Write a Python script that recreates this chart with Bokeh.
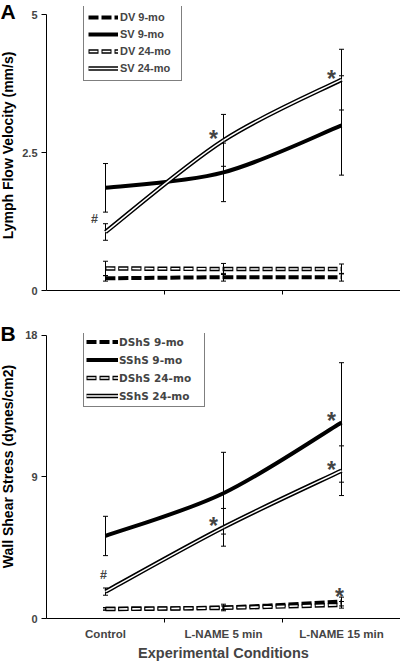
import math
import numpy as np
from bokeh.plotting import figure
from bokeh.models import (Range1d, FixedTicker, Whisker, TeeHead, ColumnDataSource,
                          Legend, LegendItem, Label, NumeralTickFormatter, CustomJSTickFormatter)
from bokeh.layouts import column, row
from bokeh.core.properties import value
from bokeh.embed import file_html
from bokeh.resources import INLINE

categories = ["Control", "L-NAME 5 min", "L-NAME 15 min"]

# Panel A: lymph flow velocity (mm/s)
dv_9mo = [0.22, 0.24, 0.24]
dv_9mo_err = [0.05, 0.07, 0.07]
sv_9mo = [1.86, 2.14, 2.99]
sv_9mo_err = [0.44, 0.53, 0.90]
dv_24mo = [0.40, 0.39, 0.39]
dv_24mo_err = [0.13, 0.10, 0.09]
sv_24mo = [1.06, 2.72, 3.82]
sv_24mo_err = [0.15, 0.47, 0.55]
yticks_A = [0, 2.5, 5]

# Panel B: wall shear stress (dynes/cm2)
dshs_9mo = [0.62, 0.70, 1.08]
dshs_9mo_err = [0.08, 0.21, 0.28]
sshs_9mo = [5.25, 7.97, 12.47]
sshs_9mo_err = [1.25, 2.60, 3.80]
dshs_24mo = [0.60, 0.68, 0.87]
dshs_24mo_err = [0.07, 0.12, 0.21]
sshs_24mo = [1.71, 5.80, 9.40]
sshs_24mo_err = [0.23, 1.20, 1.58]
yticks_B = [0, 9, 18]

# significance marks: (symbol, series, category index)
marks_A = [("#", "sv_24mo", 0), ("*", "sv_24mo", 1), ("*", "sv_24mo", 2)]
marks_B = [("#", "sshs_24mo", 0), ("*", "sshs_24mo", 1), ("*", "sshs_9mo", 2),
           ("*", "sshs_24mo", 2), ("*", "dshs_9mo_top", 2)]

panel_letters = ["A", "B"]
y_titles = ["Lymph Flow Velocity (mm/s)", "Wall Shear Stress (dynes/cm2)"]

FONT = "Liberation Sans"
SIDE_W = 18
HA, HB = 318, 345
xpos = [i + 0.5 for i in range(len(categories))]

STYLES = {
    "dashed": [dict(line_color="black", line_width=4, line_dash="10 3")],
    "solid": [dict(line_color="black", line_width=4)],
    "hollow": [dict(line_color="black", line_width=4.5, line_dash="10 3"),
               dict(line_color="white", line_width=1.6, line_dash="8 5", line_dash_offset=-1)],
    "double": [dict(line_color="black", line_width=4.5),
               dict(line_color="white", line_width=1.5)],
}


def bezier_src(xs, ys):
    n = len(xs)
    P = list(zip(xs, ys))
    d = {k: [] for k in ["x0", "y0", "x1", "y1", "cx0", "cy0", "cx1", "cy1"]}
    for i in range(n - 1):
        pm, p0, p1, p2 = P[max(i - 1, 0)], P[i], P[i + 1], P[min(i + 2, n - 1)]
        d["x0"].append(p0[0]); d["y0"].append(p0[1])
        d["x1"].append(p1[0]); d["y1"].append(p1[1])
        d["cx0"].append(p0[0] + (p1[0] - pm[0]) / 6); d["cy0"].append(p0[1] + (p1[1] - pm[1]) / 6)
        d["cx1"].append(p1[0] - (p2[0] - p0[0]) / 6); d["cy1"].append(p1[1] - (p2[1] - p0[1]) / 6)
    return ColumnDataSource(d)


def side_strip():
    """Narrow strip left of both axes holding the panel letters and the y-axis titles."""
    H = HA + HB
    s = figure(width=SIDE_W, height=H, output_backend="svg", toolbar_location=None,
               x_range=Range1d(0, SIDE_W), y_range=Range1d(0, H), min_border=0)
    s.axis.visible = False
    s.grid.visible = False
    s.outline_line_color = None
    # letters: top edge just at the page top (A) and 321 px below it (B)
    s.text(x=[0, 0], y=[H + 1, H - 321], text=panel_letters, text_font=value(FONT),
           text_font_style="bold", text_font_size="21px", text_baseline="top",
           text_align="left", text_color="black")
    # y titles centred at 145 px and 466 px below the page top
    s.text(x=[SIDE_W / 2 - 1.5] * 2, y=[H - 145, H - 466], text=y_titles, text_font=value(FONT),
           text_font_style="bold", text_font_size="14px", text_baseline="middle",
           text_align="center", angle=math.pi / 2, text_color="black")
    return s


def make_panel(series, yticks, ytop, height, top, bottom, show_x, legend_loc, legend_kw, marks):
    p = figure(width=400 - SIDE_W, height=height, output_backend="svg", toolbar_location=None,
               x_range=Range1d(0, len(categories)), y_range=Range1d(yticks[0], ytop),
               min_border_left=46 - SIDE_W, min_border_right=0, min_border_top=top,
               min_border_bottom=bottom)
    p.outline_line_color = None
    p.grid.visible = False
    p.background_fill_color = "white"

    # y axis
    ya = p.yaxis[0]
    ya.ticker = FixedTicker(ticks=yticks)
    ya.bounds = (yticks[0], yticks[-1])
    ya.formatter = NumeralTickFormatter(format="0.[0]")
    ya.major_tick_out = 5
    ya.major_tick_in = 0
    ya.minor_tick_out = 0
    ya.major_label_standoff = 4
    ya.major_label_text_font = FONT
    ya.major_label_text_font_style = "bold"
    ya.major_label_text_font_size = "11px"
    ya.axis_line_color = "black"

    # x axis
    xa = p.xaxis[0]
    xa.ticker = FixedTicker(ticks=xpos, minor_ticks=[i + 1 for i in range(len(categories))])
    xa.major_tick_out = 0
    xa.major_tick_in = 0
    xa.minor_tick_out = 4
    xa.minor_tick_in = 0
    xa.axis_line_color = "black"
    if show_x:
        xa.formatter = CustomJSTickFormatter(args=dict(cats=categories),
                                             code="return cats[Math.floor(tick)];")
        xa.major_label_standoff = 5
        xa.major_label_text_font = FONT
        xa.major_label_text_font_style = "bold"
        xa.major_label_text_font_size = "11.5px"
        xa.axis_label = "Experimental Conditions"
        xa.axis_label_text_font = FONT
        xa.axis_label_text_font_style = "bold"
        xa.axis_label_text_font_size = "14.5px"
        xa.axis_label_standoff = 2
    else:
        xa.formatter = CustomJSTickFormatter(code="return '';")

    items = []
    values = {}
    for name, label, vals, errs, style in series:
        values[name] = vals
        values[name + "_top"] = [v + e for v, e in zip(vals, errs)]
        src = bezier_src(xpos, vals)
        for kw in STYLES[style]:
            p.bezier(x0="x0", y0="y0", x1="x1", y1="y1", cx0="cx0", cy0="cy0",
                     cx1="cx1", cy1="cy1", source=src, **kw)
        leg_rs = [p.line(x=[np.nan], y=[np.nan], **kw) for kw in STYLES[style]]
        items.append(LegendItem(label=label, renderers=leg_rs))

    for name, label, vals, errs, style in series:
        es = ColumnDataSource(dict(x=xpos, upper=[v + e for v, e in zip(vals, errs)],
                                   lower=[v - e for v, e in zip(vals, errs)]))
        w = Whisker(source=es, base="x", upper="upper", lower="lower", line_color="black",
                    line_width=1,
                    upper_head=TeeHead(size=5, line_color="black", line_width=1),
                    lower_head=TeeHead(size=5, line_color="black", line_width=1))
        p.add_layout(w)

    for sym, name, idx in marks:
        if sym == "*":
            xo, yo, fs = -10, 1, "23px"
            if name.endswith("_top"):
                xo, yo = -2, 0
        else:
            xo, yo, fs = -11, 13, "12.5px"
            if name.startswith("sshs"):
                xo, yo = -2, 17
        p.add_layout(Label(x=xpos[idx], y=values[name][idx], text=sym, x_offset=xo, y_offset=yo,
                           text_align="center", text_baseline="alphabetic",
                           text_font=FONT, text_font_style="bold", text_font_size=fs))

    leg = Legend(items=items, location=legend_loc, border_line_color="black",
                 border_line_width=1, background_fill_alpha=1, margin=0, **legend_kw)
    p.add_layout(leg)
    return p


seriesA = [
    ("dv_9mo", "DV 9-mo", dv_9mo, dv_9mo_err, "dashed"),
    ("sv_9mo", "SV 9-mo", sv_9mo, sv_9mo_err, "solid"),
    ("dv_24mo", "DV 24-mo", dv_24mo, dv_24mo_err, "hollow"),
    ("sv_24mo", "SV 24-mo", sv_24mo, sv_24mo_err, "double"),
]
seriesB = [
    ("dshs_9mo", "DShS 9-mo", dshs_9mo, dshs_9mo_err, "dashed"),
    ("sshs_9mo", "SShS 9-mo", sshs_9mo, sshs_9mo_err, "solid"),
    ("dshs_24mo", "DShS 24-mo", dshs_24mo, dshs_24mo_err, "hollow"),
    ("sshs_24mo", "SShS 24-mo", sshs_24mo, sshs_24mo_err, "double"),
]

pA = make_panel(seriesA, yticks_A, 5.145, HA, 6, 28, False, (37, 209),
                dict(glyph_height=16, label_height=16, spacing=1, padding=4, label_width=57,
                     glyph_width=30, label_standoff=2, label_text_font=FONT,
                     label_text_font_style="bold", label_text_font_size="11px"),
                marks_A)
pB = make_panel(seriesB, yticks_B, 18.127, HB, 15, 44, True, (37, 211),
                dict(glyph_height=17, label_height=17, spacing=1, padding=2, label_width=83,
                     glyph_width=32, label_standoff=1, label_text_font="DejaVu Sans",
                     label_text_font_style="bold", label_text_font_size="10.5px"),
                marks_B)
side = side_strip()

layout = row(side, column(pA, pB, spacing=0), spacing=0)
open("out.html", "w").write(file_html(layout, INLINE))
